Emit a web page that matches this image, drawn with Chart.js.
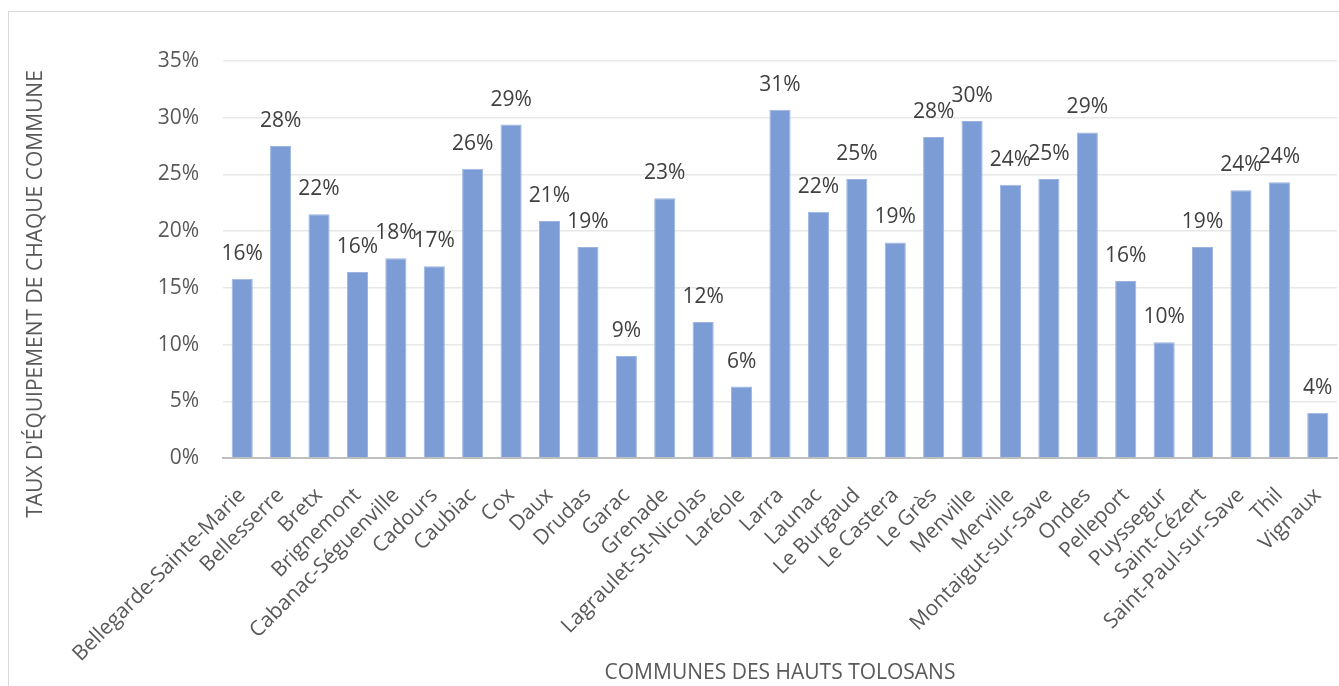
<!DOCTYPE html>
<html>
<head>
<meta charset="utf-8">
<script src="https://cdn.jsdelivr.net/npm/chart.js@4/dist/chart.umd.min.js"></script>
<style>
  html, body { margin: 0; padding: 0; background: #fff; overflow: hidden; }
  #frame { position: absolute; left: 8px; top: 11px; width: 1400px; height: 800px; border: 1px solid #d9d9d9; }
  #wrap { position: absolute; left: 0; top: 0; width: 1339px; height: 686px; }
</style>
</head>
<body>
<div id="frame"></div>
<div id="wrap"><canvas id="taux_chart"></canvas></div>
<script>
// communes des Hauts Tolosans
const communes = ['Bellegarde-Sainte-Marie', 'Bellesserre', 'Bretx', 'Brignemont', 'Cabanac-Séguenville',
    'Cadours', 'Caubiac', 'Cox', 'Daux', 'Drudas', 'Garac', 'Grenade', 'Lagraulet-St-Nicolas', 'Laréole',
    'Larra', 'Launac', 'Le Burgaud', 'Le Castera', 'Le Grès', 'Menville', 'Merville', 'Montaigut-sur-Save',
    'Ondes', 'Pelleport', 'Puyssegur', 'Saint-Cézert', 'Saint-Paul-sur-Save', 'Thil', 'Vignaux'];
// taux d'équipement (%)
const taux = [15.8, 27.5, 21.5, 16.4, 17.6, 16.9, 25.5, 29.4, 20.9, 18.6, 9.0, 22.9, 12.0, 6.3,
    30.7, 21.7, 24.6, 19.0, 28.3, 29.7, 24.1, 24.6, 28.7, 15.6, 10.2, 18.6, 23.6, 24.3, 4.0];
const yTicks = [0, 5, 10, 15, 20, 25, 30, 35];
const yTitle = "TAUX D'ÉQUIPEMENT DE CHAQUE COMMUNE";
const xTitle = 'COMMUNES DES HAUTS TOLOSANS';

const fontFamily = "'Open Sans', sans-serif";
const fontSize = 21;

// étiquettes de données + titre vertical (décalé vers le bas comme dans Excel)
const extraText = {
    id: 'extraText',
    afterDatasetsDraw(chart) {
        const ctx = chart.ctx;
        const meta = chart.getDatasetMeta(0);
        ctx.save();
        ctx.font = fontSize + "px " + fontFamily;
        ctx.fillStyle = '#404040';
        ctx.textAlign = 'center';
        ctx.textBaseline = 'middle';
        meta.data.forEach(function (bar, i) {
            ctx.fillText(Math.round(taux[i]) + '%', bar.x, bar.y - 25);
        });
        ctx.fillStyle = '#595959';
        ctx.translate(36, 294);
        ctx.rotate(-Math.PI / 2);
        ctx.fillText(yTitle, 0, 0);
        ctx.restore();
    }
};

new Chart(document.getElementById('taux_chart'), {
    type: 'bar',
    data: {
        labels: communes,
        datasets: [{
            label: "Taux d'équipement",
            data: taux,
            backgroundColor: '#7b9cd5',
            borderColor: '#9bb5e2',
            borderWidth: 1,
            categoryPercentage: 1,
            barPercentage: 0.55
        }]
    },
    options: {
        responsive: true,
        maintainAspectRatio: false,
        animation: false,
        layout: { padding: { top: 61, right: 2, left: 0, bottom: 0 } },
        plugins: {
            legend: { display: false },
            tooltip: { enabled: false }
        },
        scales: {
            x: {
                grid: { display: false },
                border: { color: '#bfbfbf', width: 2 },
                ticks: {
                    autoSkip: false,
                    minRotation: 45,
                    maxRotation: 45,
                    padding: 17,
                    color: '#595959',
                    font: { family: fontFamily, size: fontSize }
                },
                title: {
                    display: true,
                    text: xTitle,
                    color: '#595959',
                    font: { family: fontFamily, size: fontSize },
                    padding: { top: 0, bottom: 0 }
                },
                afterFit: function (scale) {
                    scale.height = 228;
                    scale.paddingLeft = 0;
                    scale.paddingRight = 0;
                }
            },
            y: {
                min: 0,
                max: 35,
                afterBuildTicks: function (scale) {
                    scale.ticks = yTicks.map(function (v) { return { value: v }; });
                },
                grid: { color: '#e8e8e8', lineWidth: 1.5, drawTicks: false },
                border: { display: false },
                ticks: {
                    padding: 24,
                    color: '#595959',
                    font: { family: fontFamily, size: fontSize },
                    callback: function (v) { return v + '%'; }
                },
                afterFit: function (scale) { scale.width = 223; }
            }
        }
    },
    plugins: [extraText]
});
</script>
</body>
</html>
